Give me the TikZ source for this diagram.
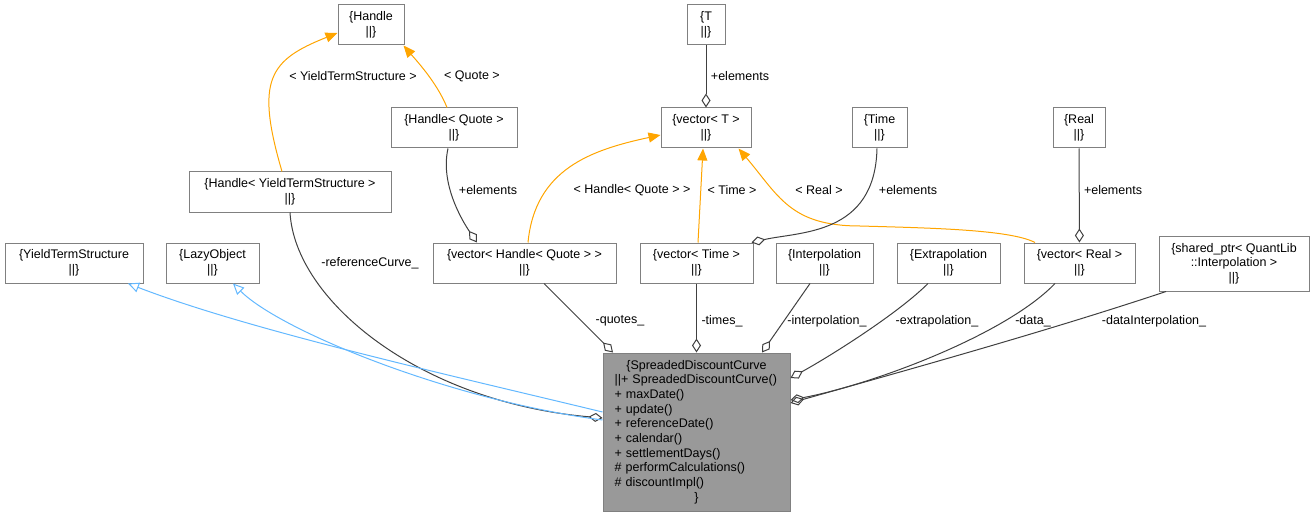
\documentclass[tikz,border=0pt]{standalone}
\usepackage{fontspec}
\setmainfont{Liberation Sans}
\usepackage{xcolor}
\usepackage{tikz}
\usetikzlibrary{arrows.meta, positioning, calc}
\definecolor{inh_col}{RGB}{99, 184, 255}
\definecolor{tmpl_col}{RGB}{255, 165, 0}
\definecolor{memb_col}{RGB}{64, 64, 64}
\definecolor{box_col}{RGB}{128, 128, 128}
\definecolor{main_col}{RGB}{153, 153, 153}

\begin{document}
\begin{tikzpicture}[x=1pt, y=-1pt, line width=1pt,
    font=\fontsize{12.5}{14.7}\selectfont,
    every node/.style={align=center},
    cls/.style={draw=box_col, fill=white, inner sep=0pt, minimum height=40pt},
    inh/.style={draw=inh_col, -{Triangle[open, length=11pt, width=10pt]}},
    tmpl/.style={draw=tmpl_col, -{Triangle[length=12pt, width=10pt]}},
    member/.style={draw=memb_col, -{Diamond[open, length=14pt, width=9pt]}}]
  \useasboundingbox (0,0) rectangle (1315,516);

  \node[cls, minimum width=66pt] (handle) at (371,25) {\{Handle\\||\}};
  \node[cls, minimum width=38pt] (tpar) at (706,25) {\{T\\||\}};
  \node[cls, minimum width=126pt] (hquote) at (454,128)
    {\{Handle< Quote >\\||\}};
  \node[cls, minimum width=90pt] (vect) at (706,128) {\{vector< T >\\||\}};
  \node[cls, minimum width=55pt] (timecls) at (879.5,128) {\{Time\\||\}};
  \node[cls, minimum width=52pt] (realcls) at (1079,128) {\{Real\\||\}};
  \node[cls, minimum width=202pt] (hyts) at (290,192)
    {\{Handle< YieldTermStructure >\\||\}};

  \node[cls, minimum width=138pt] (yts) at (74,263)
    {\{YieldTermStructure\\||\}};
  \node[cls, minimum width=93pt] (lazy) at (212.5,263) {\{LazyObject\\||\}};
  \node[cls, minimum width=183pt] (vhquote) at (524.5,263)
    {\{vector< Handle< Quote > >\\||\}};
  \node[cls, minimum width=113pt] (vtime) at (696.5,263)
    {\{vector< Time >\\||\}};
  \node[cls, minimum width=97pt] (interp) at (824.5,263)
    {\{Interpolation\\||\}};
  \node[cls, minimum width=103pt] (extrap) at (948.5,263)
    {\{Extrapolation\\||\}};
  \node[cls, minimum width=111pt] (vreal) at (1079.5,263)
    {\{vector< Real >\\||\}};
  \node[cls, minimum width=150pt, minimum height=55pt] (sptr) at (1234,263.5)
    {\{shared\_ptr< QuantLib\\::Interpolation >\\||\}};

  \node[cls, fill=main_col, minimum width=187pt, minimum height=158pt,
        text width=164pt, align=left] (sdc) at (696.5,432)
    {\makebox[164pt][c]{\{SpreadedDiscountCurve}\\
     ||+ SpreadedDiscountCurve()\\
     + maxDate()\\
     + update()\\
     + referenceDate()\\
     + calendar()\\
     + settlementDays()\\
     \# performCalculations()\\
     \# discountImpl()\\
     \makebox[164pt][c]{\}}};

  \draw[tmpl] ($(hyts.north)+(-8,0)$) .. controls +(-27,-92) and +(-68,27)
    .. ($(handle.west)+(0,8)$);
  \draw[tmpl] ($(hquote.north)+(-7,0)$) .. controls +(-10,-25) and +(12,14)
    .. ($(handle.south east)+(-1,0)$);
  \draw[tmpl] ($(vhquote.north)+(3.5,0)$) .. controls +(7,-73) and +(-70,15)
    .. ($(vect.west)+(0,7)$);
  \draw[tmpl] ($(vtime.north)+(1.5,0)$) -- ($(vect.south)+(-3,0)$);
  \draw[tmpl] ($(vreal.north)+(-44.5,0)$) .. controls +(-25,-13) and +(70,2)
    .. (860,226) .. controls +(-70,0) and +(40,47)
    .. ($(vect.south east)+(-13,0)$);

  \draw[member] (tpar) -- (vect);
  \draw[member] ($(hquote.south)+(-6,0)$) .. controls +(-8,35) and +(-15,-22)
    .. ($(vhquote.north)+(-47.5,0)$);
  \draw[member] ($(timecls.south)+(-2.5,0)$) .. controls +(-2,87) and +(48,-11)
    .. ($(vtime.north)+(55,0)$);
  \draw[member] (realcls) -- (vreal);

  \draw[member] (hyts.south) .. controls +(5,88) and +(-183,-16)
    .. ($(sdc.west)+(0,-14)$);
  \draw[member] ($(vhquote.south)+(19.5,0)$) -- ($(sdc.north)+(-83.5,0)$);
  \draw[member] (vtime) -- (sdc);
  \draw[member] ($(interp.south)+(-14.5,0)$) -- ($(sdc.north)+(65.5,0)$);
  \draw[member] ($(extrap.south)+(-20.5,0)$) .. controls +(-30,30) and +(40,-22)
    .. ($(sdc.east)+(0,-54)$);
  \draw[member] ($(vreal.south)+(-24.5,0)$) .. controls +(-50,52) and +(80,-15)
    .. ($(sdc.east)+(0,-32)$);
  \draw[member] ($(sptr.south)+(-68,0)$) .. controls +(-120,40) and +(120,-34)
    .. ($(sdc.east)+(0,-29)$);

  \draw[inh] ($(sdc.west)+(0,-20)$) .. controls +(-153,-37) and +(122,47)
    .. ($(yts.south)+(54,0)$);
  \draw[inh] ($(sdc.west)+(0,-12)$) .. controls +(-153,-20) and +(47,47)
    .. ($(lazy.south)+(20.5,0)$);

  \node (l_hyts) at (353,76) {< YieldTermStructure >};
  \node (l_hquote) at (472,76) {< Quote >};
  \node (l_telem) at (740,76) {+elements};
  \node (l_qelem) at (488,190) {+elements};
  \node (l_vhq) at (632,190) {< Handle< Quote > >};
  \node (l_vtime) at (732,190) {< Time >};
  \node (l_vreal) at (819,190) {< Real >};
  \node (l_timeelem) at (908,190) {+elements};
  \node (l_realelem) at (1113,190) {+elements};
  \node (l_refcurve) at (370,263) {-referenceCurve\_};
  \node (l_quotes) at (620,321) {-quotes\_};
  \node (l_times) at (722,321) {-times\_};
  \node (l_interp) at (827,321) {-interpolation\_};
  \node (l_extrap) at (937,321) {-extrapolation\_};
  \node (l_data) at (1033,321) {-data\_};
  \node (l_dinterp) at (1154,321) {-dataInterpolation\_};
\end{tikzpicture}
\end{document}
